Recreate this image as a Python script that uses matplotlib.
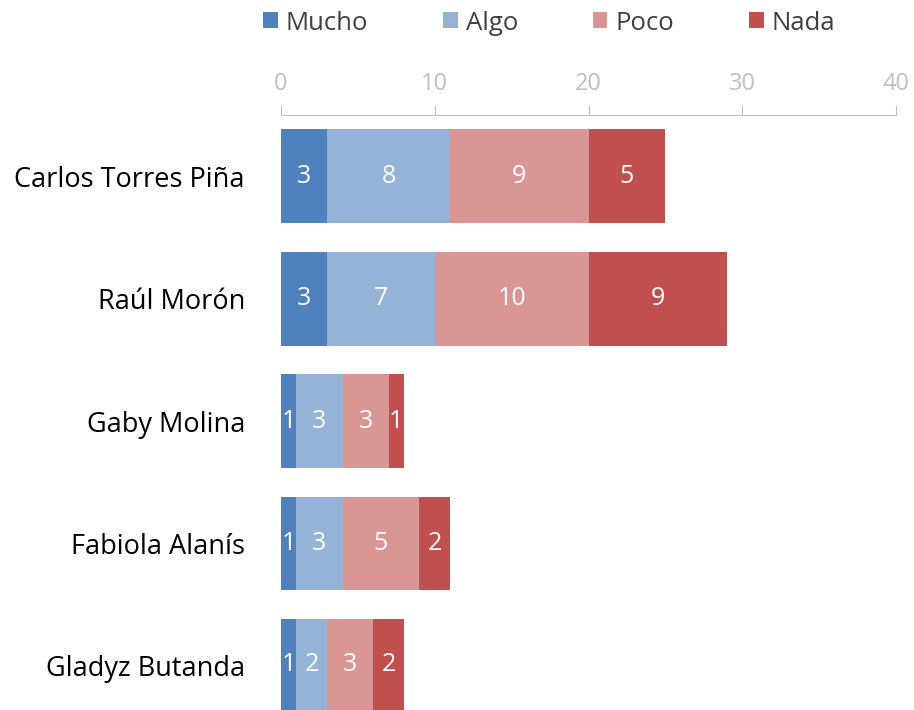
import matplotlib
matplotlib.use("Agg")
import matplotlib.pyplot as plt
import numpy as np

plt.rcParams['font.family'] = ['Open Sans', 'DejaVu Sans']

people = ["Carlos Torres Piña", "Raúl Morón", "Gaby Molina", "Fabiola Alanís", "Gladyz Butanda"]
series = ["Mucho", "Algo", "Poco", "Nada"]
mucho = [3, 3, 1, 1, 1]
algo = [8, 7, 3, 3, 2]
poco = [9, 10, 3, 5, 3]
nada = [5, 9, 1, 2, 2]
colors = ["#4F81BD", "#95B3D7", "#DA9694", "#C0504D"]
xticks = [0, 10, 20, 30, 40]

fig = plt.figure(figsize=(9.14, 7.10), dpi=100)
ax = fig.add_axes([281/914, 0, 615/914, (710-115)/710])

y = np.arange(len(people))
left = np.zeros(len(people))
handles = []
for name, vals, col in zip(series, [mucho, algo, poco, nada], colors):
    bars = ax.barh(y, vals, left=left, height=0.767, color=col, label=name)
    ax.bar_label(bars, labels=[str(v) for v in vals], label_type='center',
                 color='white', fontsize=18)
    left += np.array(vals)
    handles.append(bars)

ax.set_xlim(0, 40)
ax.set_ylim(4.36, -0.5)
ax.set_yticks(y)
ax.set_yticklabels(people, fontsize=19.5, color='black')
ax.tick_params(axis='y', length=0, pad=26)
ax.xaxis.tick_top()
ax.set_xticks(xticks)
ax.set_xticklabels([str(t) for t in xticks], fontsize=17, color='#BFBFBF')
ax.tick_params(axis='x', direction='out', length=7, color='#BFBFBF', pad=7)
for s in ['left', 'right', 'bottom']:
    ax.spines[s].set_visible(False)
ax.spines['top'].set_color('#BFBFBF')

leg = fig.legend(handles=handles, labels=series, loc='center', ncol=4,
                 bbox_to_anchor=(549/914, 1 - 23/710), frameon=False,
                 fontsize=18.5, handlelength=0.58, handleheight=0.58,
                 handletextpad=0.31, columnspacing=2.9, borderpad=0, borderaxespad=0)
for t in leg.get_texts():
    t.set_color('#404040')

fig.savefig("out.png", dpi=100)
